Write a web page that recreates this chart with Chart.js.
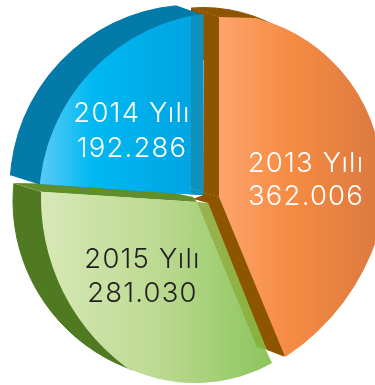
<!DOCTYPE html>
<html><head><meta charset="utf-8">
<script src="https://cdn.jsdelivr.net/npm/chart.js@4/dist/chart.umd.min.js"></script>
<style>html,body{margin:0;padding:0;background:#fff;overflow:hidden}
#stage{position:relative;width:375px;height:385px;overflow:hidden}
canvas{position:absolute;left:-100px;top:-100px}</style></head><body><div id="stage"></div>
<script>
const categories=['2013 Yılı','2015 Yılı','2014 Yılı'];
const values=[362006,281030,192286];
const valueLabels=['362.006','281.030','192.286'];
const labelColors=['#ffffff','#231f20','#ffffff'];
const labelPos=[[306,172,205],[142.5,268,302],[132,122,157]];
const FONT='300 27.5px Inter';

const orangeG={x0:219,x1:375,stops:[[0,'#fca46d'],[.46,'#f68b42'],[1,'#dd7a40']]};
const greenG={x0:42,x1:272,stops:[[0,'#d8e8b6'],[.5,'#bcda92'],[1,'#8cc45c']]};
const blueG={x0:39,x1:191,stops:[[0,'#5acbf8'],[.35,'#00b9f2'],[1,'#00a4e2']]};
const bandG={x0:197,x1:268,stops:[[0,'#9ab350'],[1,'#86b23a']]};
const ALL=[0,1,2];

const layers=[
 {c:[192,201],r:179.5,fill:'#507a22',paint:ALL,clip:[[5,181],[13,183],[42,192],[140,385],[5,385]]},
 {c:[192,201],r:182,fill:'#608e2a',paint:ALL,clip:[[13,183],[43,183.5],[170,192],[193,197],[197,202],[42,192]]},
 {c:[252,198],r:211,fill:greenG,paint:ALL,clip:[[30,191],[131,197.5],[131,391],[0,391],[0,191]]},
 {c:[195,225.5],r:157.7,fill:greenG,paint:ALL,clip:[[130,197.4],[197,202],[285,391],[130,391]]},
 {c:[199,223],r:250,fill:bandG,paint:ALL,clip:[[197,202],[208,203],[268,350],[257,347]]},
 {c:[203,160],r:153,fill:'#8e5500',paint:ALL,clip:[[191,0],[280,0],[280,60],[191,60]]},
 {c:[188,195],r:188,fill:'#8e5500',paint:[0],clip:[[204,15],[219,15],[285,357],[267,350],[208,203],[193,199],[203,195]]},
 {c:[215,180],r:167,fill:orangeG,paint:[0],clip:[[219,17],[255,18],[255,0],[375,0],[375,200],[219,197]]},
 {c:[162,167],r:226.5,fill:orangeG,paint:[0],clip:[[219,185],[375,185],[375,390],[298,388],[219,197]]},
 {c:[193,188],r:183.5,fill:'#047aa8',paint:ALL,clip:[[0,172],[38,184],[203,195],[203,15],[175,5],[175,0],[0,0]]},
 {c:[229,202],r:190,fill:blueG,paint:[1,2],clip:[[0,181.4],[39,184],[191,194.5],[191,0],[0,0]]},
 {c:[229,202],r:190,fill:'#0e91bd',paint:[1,2],clip:[[191,0],[203.5,0],[203.5,195],[191,194.5]]}
];
const creases=[[[191,7],[219,17]],[[13,183],[42,192]],[[190,188],[218,197]]];

const M=100,W=375+2*M,H=385+2*M,stage=document.getElementById('stage');
Chart.defaults.animation=false;
function paintOf(ctx,f){
  if(typeof f==='string')return f;
  const g=ctx.createLinearGradient(f.x0+M,0,f.x1+M,0);
  f.stops.forEach(s=>g.addColorStop(s[0],s[1]));return g;
}
const clipPlugin=poly=>({id:'clipShape',
  beforeDatasetsDraw(chart){const c=chart.ctx;c.save();c.beginPath();
    poly.forEach((p,i)=>i?c.lineTo(p[0]+M,p[1]+M):c.moveTo(p[0]+M,p[1]+M));c.closePath();c.clip();},
  afterDatasetsDraw(chart){chart.ctx.restore();}});
const labelPlugin={id:'yearLabels',afterDraw(chart){const c=chart.ctx;c.save();
  c.strokeStyle='rgba(255,235,190,.35)';c.lineWidth=.6;c.setLineDash([2,2]);
  creases.forEach(s=>{c.beginPath();c.moveTo(s[0][0]+M,s[0][1]+M);c.lineTo(s[1][0]+M,s[1][1]+M);c.stroke();});
  c.setLineDash([]);
  c.font=FONT;c.letterSpacing='1.2px';c.textAlign='center';c.textBaseline='alphabetic';
  categories.forEach((t,i)=>{c.fillStyle=labelColors[i];
    c.fillText(t,labelPos[i][0]+M,labelPos[i][1]+M);
    c.fillText(valueLabels[i],labelPos[i][0]+M,labelPos[i][2]+M);});
  c.restore();}};
layers.forEach((l,n)=>{
  const cv=document.createElement('canvas');cv.width=W;cv.height=H;stage.appendChild(cv);
  const ctx=cv.getContext('2d');const fill=paintOf(ctx,l.fill);
  const plugins=[clipPlugin(l.clip)];
  if(n===layers.length-1)plugins.push(labelPlugin);
  const col=values.map((v,i)=>l.paint.includes(i)?fill:'rgba(0,0,0,0)');
  const cx=l.c[0]+M,cy=l.c[1]+M;
  new Chart(ctx,{type:'pie',
    data:{labels:categories,datasets:[{data:values,borderWidth:1,borderColor:col,clip:false,
      backgroundColor:col}]},
    options:{responsive:false,events:[],
      layout:{padding:{left:cx-l.r,top:cy-l.r,right:W-cx-l.r,bottom:H-cy-l.r}},
      plugins:{legend:{display:false},tooltip:{enabled:false}}},
    plugins});
});
</script></body></html>
